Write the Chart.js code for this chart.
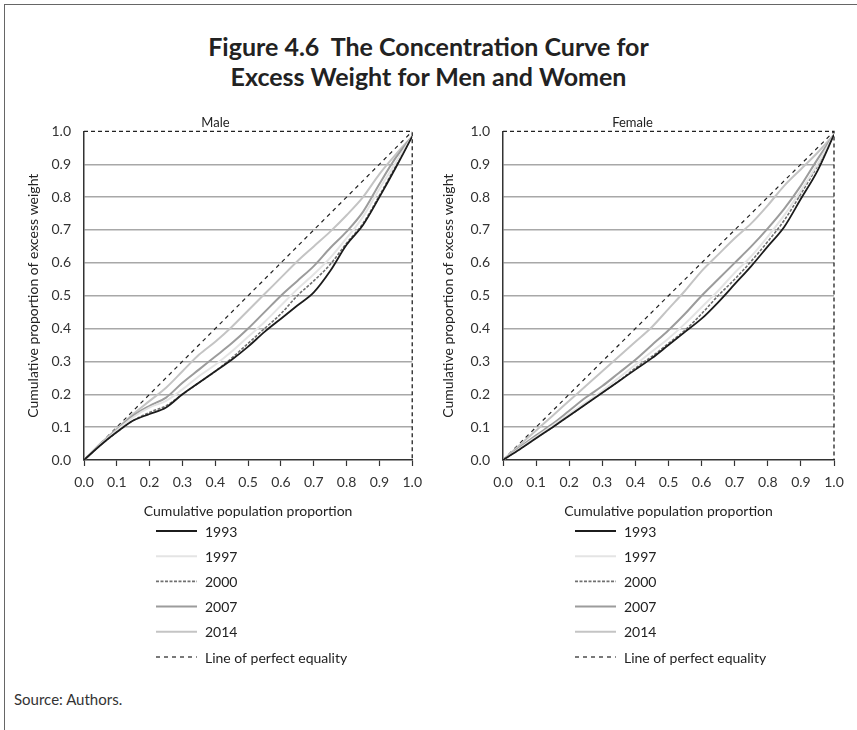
<!DOCTYPE html>
<html>
<head>
<meta charset="utf-8">
<script src="https://cdn.jsdelivr.net/npm/chart.js@4.4.0/dist/chart.umd.min.js"></script>
<style>
body { margin: 0; background: #fff; font-family: Lato, sans-serif; }
#page { position: relative; width: 857px; height: 730px; overflow: hidden; background: #fff; }
#frame { position: absolute; left: 4px; top: 4px; width: 860px; height: 740px; border-left: 1px solid #666; border-top: 1px solid #666; }
.title { position: absolute; left: 0; width: 857px; text-align: center; font-weight: 700; font-size: 25px; line-height: 30px; color: #222; }
#source { position: absolute; left: 14px; top: 690px; font-size: 15px; color: #333; }
canvas { position: absolute; }
#male { left: 0; top: 110px; }
#female { left: 430px; top: 110px; }
</style>
</head>
<body>
<div id="page">
  <div id="frame"></div>
  <div class="title" style="top:31px">Figure 4.6&nbsp;&nbsp;The Concentration Curve for</div>
  <div class="title" style="top:61px">Excess Weight for Men and Women</div>
  <canvas id="male" width="430" height="570" style="width:430px;height:570px"></canvas>
  <canvas id="female" width="427" height="570" style="width:427px;height:570px"></canvas>
  <div id="source">Source: Authors.</div>
</div>
<script>
// data
var popShare = [0, 0.05, 0.1, 0.15, 0.2, 0.25, 0.3, 0.35, 0.4, 0.45, 0.5, 0.55, 0.6, 0.65, 0.7, 0.75, 0.8, 0.85, 0.9, 0.95, 1];
var years = ['1993', '1997', '2000', '2007', '2014'];
var equalityLabel = 'Line of perfect equality';
var equalityX = [0, 1];
var equalityY = [0, 1];
var tickLabels = ['0.0', '0.1', '0.2', '0.3', '0.4', '0.5', '0.6', '0.7', '0.8', '0.9', '1.0'];

var male1993 = [0, .045, .085, .12, .14, .16, .20, .235, .27, .305, .345, .39, .43, .47, .51, .575, .655, .715, .80, .89, .985];
var male1997 = [0, .047, .09, .13, .16, .18, .215, .255, .29, .33, .375, .42, .47, .52, .565, .615, .675, .74, .825, .905, .985];
var male2000 = [0, .045, .085, .12, .145, .165, .20, .235, .27, .31, .355, .40, .445, .50, .545, .595, .66, .72, .805, .895, .985];
var male2007 = [0, .048, .092, .135, .165, .19, .235, .275, .315, .355, .40, .45, .50, .545, .59, .645, .695, .755, .84, .92, .985];
var male2014 = [0, .05, .095, .14, .18, .22, .27, .32, .36, .405, .455, .505, .555, .605, .65, .695, .745, .80, .87, .93, .985];

var female1993 = [0, .032, .066, .10, .135, .17, .205, .24, .275, .31, .35, .39, .43, .48, .535, .59, .65, .71, .795, .88, .99];
var female1997 = [0, .035, .07, .105, .14, .175, .21, .25, .29, .33, .37, .415, .465, .515, .57, .62, .68, .745, .82, .90, .99];
var female2000 = [0, .033, .067, .10, .135, .17, .205, .24, .28, .315, .355, .395, .445, .50, .55, .605, .665, .73, .81, .895, .99];
var female2007 = [0, .038, .075, .11, .15, .19, .225, .265, .305, .35, .395, .445, .50, .55, .60, .65, .705, .765, .835, .915, .99];
var female2014 = [0, .045, .09, .135, .18, .225, .27, .315, .36, .405, .46, .515, .575, .625, .675, .72, .775, .835, .885, .935, .99];

// styles
var lineColors = ['#1c1c1c', '#e4e4e4', '#707070', '#9c9c9c', '#c4c4c4'];
var lineWidths = [1.8, 2, 1.6, 2, 2];
var lineDashes = [[], [], [3, 1.5], [], []];

function pts(xs, ys) {
    return xs.map(function (x, i) { return {x: x, y: ys[i]}; });
}

function buildData(series) {
    var sets = series.map(function (ys, i) {
        return {
            label: years[i],
            data: pts(popShare, ys),
            borderColor: lineColors[i],
            borderWidth: lineWidths[i],
            borderDash: lineDashes[i],
            pointRadius: 0,
            cubicInterpolationMode: 'monotone',
            fill: false
        };
    });
    sets.push({
        label: equalityLabel,
        data: pts(equalityX, equalityY),
        borderColor: '#222',
        borderWidth: 1.2,
        borderDash: [4, 4],
        pointRadius: 0,
        fill: false
    });
    return {datasets: sets};
}

// dashed box on top and right
var dashedFrame = {
    id: 'dashedFrame',
    beforeDatasetsDraw: function (chart) {
        var ctx = chart.ctx, xs = chart.scales.x, ys = chart.scales.y;
        var x0 = xs.getPixelForValue(0), x1 = xs.getPixelForValue(1);
        var y0 = ys.getPixelForValue(0), y1 = ys.getPixelForValue(1);
        ctx.save();
        ctx.strokeStyle = '#222';
        ctx.lineWidth = 1.3;
        ctx.setLineDash([4, 3]);
        ctx.beginPath();
        ctx.moveTo(x0, y1);
        ctx.lineTo(x1, y1);
        ctx.lineTo(x1, y0);
        ctx.stroke();
        ctx.restore();
    }
};

// vertical legend under the axis title
var legendBelow = {
    id: 'legendBelow',
    afterDraw: function (chart) {
        var ctx = chart.ctx, a = chart.chartArea;
        var x0 = a.left + 72;
        chart.data.datasets.forEach(function (ds, i) {
            var y = a.bottom + 71 + i * 25.2;
            ctx.save();
            ctx.strokeStyle = ds.borderColor;
            ctx.lineWidth = ds.borderWidth;
            ctx.setLineDash(ds.borderDash || []);
            ctx.beginPath();
            ctx.moveTo(x0, y);
            ctx.lineTo(x0 + 41, y);
            ctx.stroke();
            ctx.setLineDash([]);
            ctx.fillStyle = '#222';
            ctx.font = '14px Lato';
            ctx.textBaseline = 'middle';
            ctx.fillText(ds.label, x0 + 49, y + 1);
            ctx.restore();
        });
    }
};

function makeChart(id, name, series, padLeft, padRight, yWidth) {
    return new Chart(id, {
        type: 'line',
        data: buildData(series),
        plugins: [dashedFrame, legendBelow],
        options: {
            responsive: false,
            animation: false,
            layout: {padding: {left: padLeft, right: padRight, top: 4, bottom: 160}},
            plugins: {
                legend: {display: false},
                tooltip: {enabled: false},
                title: {
                    display: true,
                    text: name,
                    color: '#222',
                    font: {family: 'Lato', size: 13, weight: 'normal'},
                    padding: {top: 0, bottom: 1.2}
                }
            },
            scales: {
                x: {
                    type: 'linear',
                    min: 0,
                    max: 1,
                    afterFit: function (s) { s.height = 60; },
                    ticks: {
                        stepSize: 0.1,
                        color: '#333',
                        padding: 8,
                        maxRotation: 0,
                        font: {family: 'Lato', size: 14},
                        callback: function (v, i) { return tickLabels[i]; }
                    },
                    grid: {drawOnChartArea: false, drawTicks: true, tickLength: 6, tickColor: '#333', tickWidth: 1.2},
                    border: {color: '#333', width: 1.5},
                    title: {
                        display: true,
                        text: 'Cumulative population proportion',
                        color: '#222',
                        font: {family: 'Lato', size: 14},
                        padding: {top: 0, bottom: 0}
                    }
                },
                y: {
                    min: 0,
                    max: 1,
                    afterFit: function (s) { s.width = yWidth; },
                    ticks: {
                        stepSize: 0.1,
                        color: '#333',
                        padding: 13,
                        font: {family: 'Lato', size: 14},
                        callback: function (v, i) { return tickLabels[i]; }
                    },
                    grid: {
                        drawTicks: false,
                        lineWidth: 1.5,
                        color: function (c) {
                            if (c.tick && (c.tick.value <= 0.0001 || c.tick.value >= 0.9999)) return 'rgba(0,0,0,0)';
                            return '#a8a8a8';
                        }
                    },
                    border: {color: '#333', width: 1.5},
                    title: {
                        display: true,
                        text: 'Cumulative proportion of excess weight',
                        color: '#222',
                        font: {family: 'Lato', size: 14},
                        padding: {top: 8.6, bottom: 0}
                    }
                }
            }
        }
    });
}

makeChart('male', 'Male', [male1993, male1997, male2000, male2007, male2014], 16, 15, 68);
makeChart('female', 'Female', [female1993, female1997, female2000, female2007, female2014], 1, 23, 72);
</script>
</body>
</html>
